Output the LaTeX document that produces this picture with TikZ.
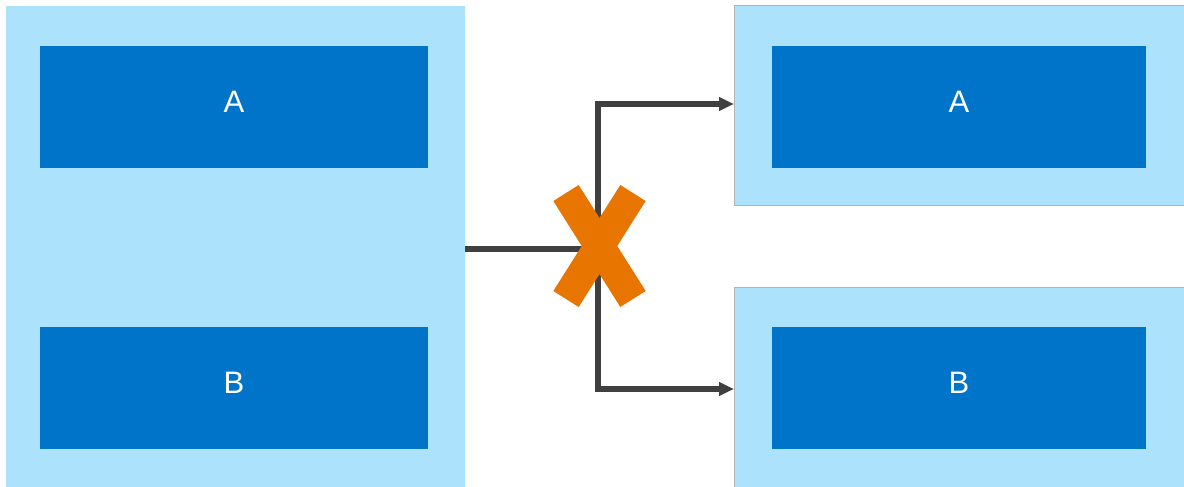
\documentclass[tikz,border=0pt]{standalone}
\usepackage{fontspec}
\setmainfont{Liberation Sans}
\usetikzlibrary{arrows.meta}
\definecolor{lightb}{HTML}{ACE2FC}
\definecolor{darkb}{HTML}{0074C9}
\definecolor{conn}{HTML}{404040}
\definecolor{xorange}{HTML}{E87500}
\definecolor{bord}{HTML}{B4B4B4}
\begin{document}
\begin{tikzpicture}[x=1pt,y=-1pt,
  outerbox/.style={fill=lightb,draw=none,minimum width=#1,inner sep=0pt,outer sep=0pt},
  outerbord/.style={fill=lightb,draw=bord,line width=1pt,inner sep=0pt,outer sep=0pt},
  innerbox/.style={fill=darkb,text=white,inner sep=0pt,outer sep=0pt,minimum height=122pt,
    font=\fontsize{31}{36}\selectfont,text height=22pt,text depth=12pt},
  conline/.style={draw=conn,line width=5.5pt},
  arr/.style={conline,-{Triangle[length=15pt,width=13pt]}},
  xarm/.style={draw=xorange,line width=30pt,line cap=butt}]
\useasboundingbox (0,0) rectangle (1184,487);
% left container
\node[outerbox=459pt,minimum height=481pt] (L) at (235.5,246.5) {};
\node[innerbox,minimum width=388pt] (LA) at (234,107) {A};
\node[innerbox,minimum width=388pt] (LB) at (234,388) {B};
% right containers
\node[outerbord,minimum width=450pt,minimum height=199pt] (RT) at (959,105.5) {};
\node[outerbord,minimum width=450pt,minimum height=200pt] (RB) at (959,387) {};
\node[innerbox,minimum width=374pt] (RA) at (959,107) {A};
\node[innerbox,minimum width=374pt] (RBB) at (959,388) {B};
% connectors
\coordinate (J) at (598,249);
\coordinate (JT) at (598,104);
\coordinate (JB) at (598,389);
\draw[conline] (L.east |- J) -- (J);
\draw[arr,line join=miter] (J) -- (JT) -- (RT.west |- JT);
\draw[arr,line join=miter] (J) -- (JB) -- (RB.west |- JB);
% cross
\coordinate (X1) at (566,193);
\coordinate (X2) at (633,299);
\coordinate (X3) at (633,193);
\coordinate (X4) at (566,299);
\draw[xarm] (X1) -- (X2);
\draw[xarm] (X3) -- (X4);
\end{tikzpicture}
\end{document}
